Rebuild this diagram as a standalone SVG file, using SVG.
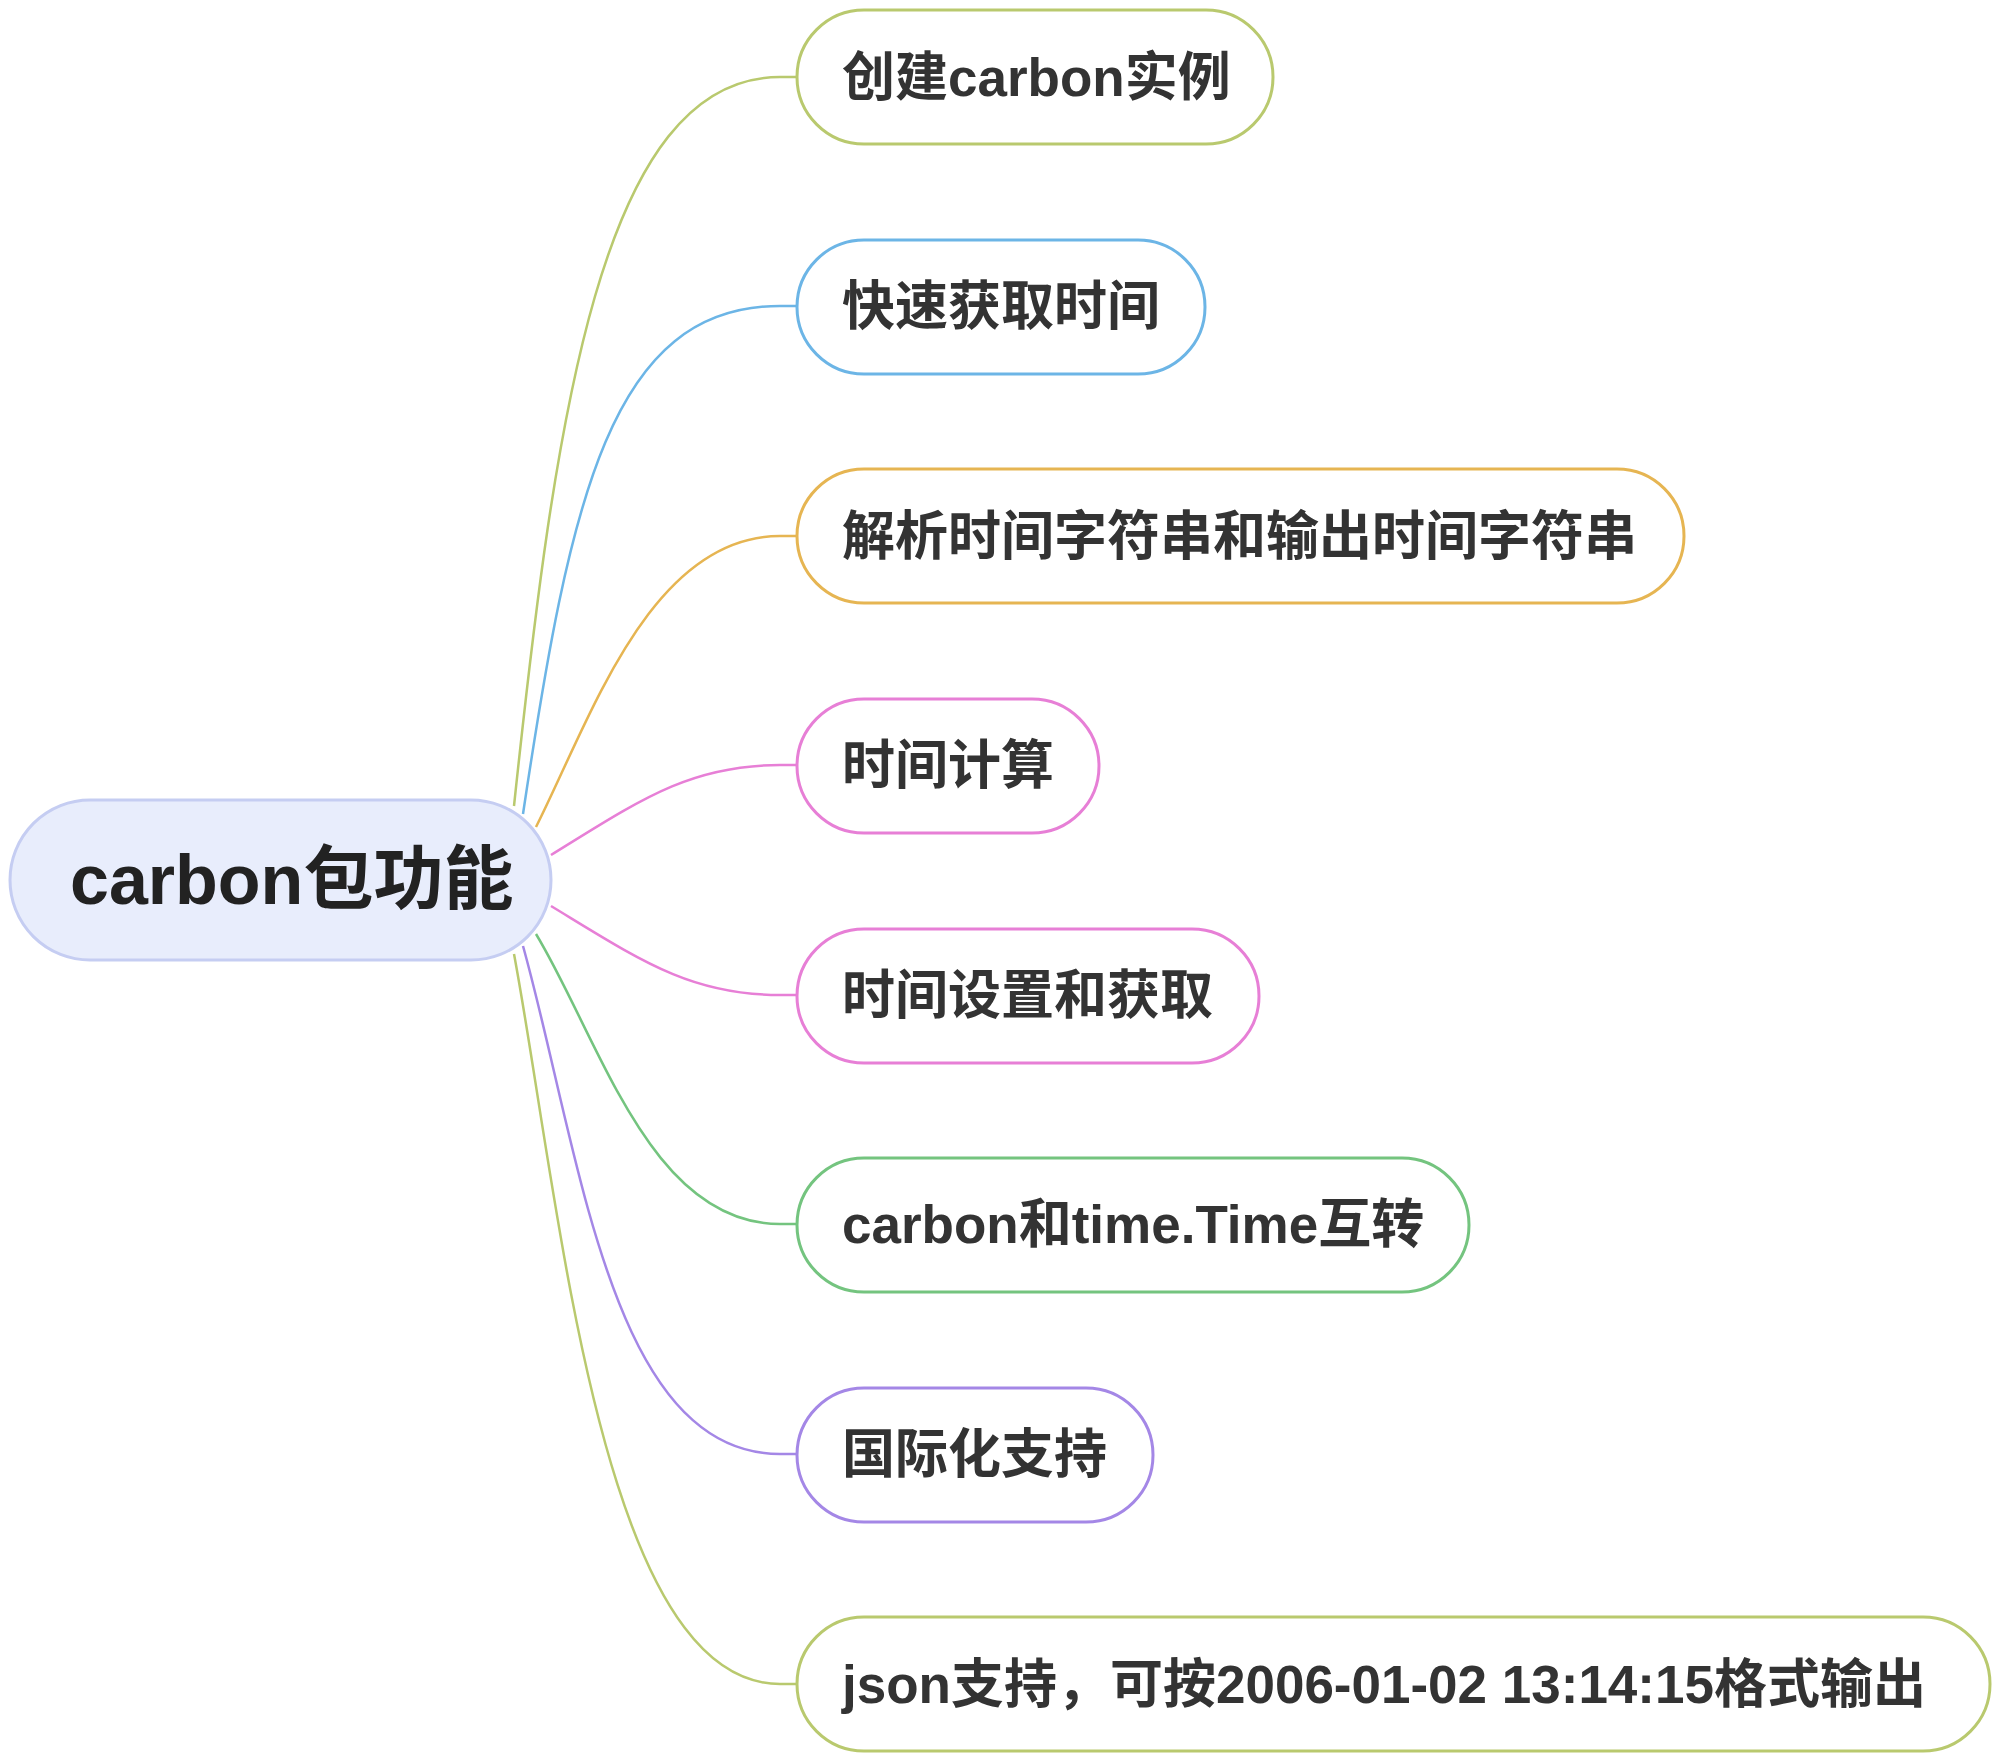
<svg xmlns="http://www.w3.org/2000/svg" width="2000" height="1761" viewBox="0 0 2000 1761">
<style>
.n rect{fill:#fff;stroke-width:3}
.t{font-family:"Liberation Sans","Noto Sans CJK SC",sans-serif;font-size:53px;fill:#333;font-weight:bold;dominant-baseline:central}
#conn path{fill:none;stroke-width:2.5}
</style>
<rect width="2000" height="1761" fill="#fff"/>
<g id="conn">
<path d="M514,806 C555,420 600,77 780,77 L797,77" stroke="#b9c96e"/>
<path d="M523,814 C570,500 610,306 780,306 L797,306" stroke="#6cb5e6"/>
<path d="M536,827 C590,720 650,536 780,536 L797,536" stroke="#e6b552"/>
<path d="M551,855 C640,800 690,765 780,765 L797,765" stroke="#e77fd6"/>
<path d="M551,906 C640,960 690,995 780,995 L797,995" stroke="#e77fd6"/>
<path d="M536,934 C600,1040 650,1224 780,1224 L797,1224" stroke="#74c47f"/>
<path d="M523,946 C580,1150 610,1454 780,1454 L797,1454" stroke="#a487e6"/>
<path d="M514,954 C560,1200 600,1684 780,1684 L797,1684" stroke="#b9c96e"/>
</g>
<g id="root"><rect x="10" y="800" width="541" height="160" rx="80" fill="#e8edfc" stroke="#c5cdf2" stroke-width="3"/><text class="t" x="70" y="880" style="font-size:70px;font-weight:600;fill:#222">carbon包功能</text></g>
<g id="n1" class="n"><rect x="797" y="10" width="476" height="134" rx="67" stroke="#b9c96e"/><text class="t" x="842" y="77">创建carbon实例</text></g>
<g id="n2" class="n"><rect x="797" y="240" width="408" height="134" rx="67" stroke="#6cb5e6"/><text class="t" x="842" y="306">快速获取时间</text></g>
<g id="n3" class="n"><rect x="797" y="469" width="887" height="134" rx="67" stroke="#e6b552"/><text class="t" x="842" y="536">解析时间字符串和输出时间字符串</text></g>
<g id="n4" class="n"><rect x="797" y="699" width="302" height="134" rx="67" stroke="#e77fd6"/><text class="t" x="842" y="765">时间计算</text></g>
<g id="n5" class="n"><rect x="797" y="929" width="462" height="134" rx="67" stroke="#e77fd6"/><text class="t" x="842" y="995">时间设置和获取</text></g>
<g id="n6" class="n"><rect x="797" y="1158" width="672" height="134" rx="67" stroke="#74c47f"/><text class="t" x="842" y="1224">carbon和time.Time互转</text></g>
<g id="n7" class="n"><rect x="797" y="1388" width="356" height="134" rx="67" stroke="#a487e6"/><text class="t" x="842" y="1454">国际化支持</text></g>
<g id="n8" class="n"><rect x="797" y="1617" width="1193" height="134" rx="67" stroke="#b9c96e"/><text class="t" x="842" y="1684">json支持，可按2006-01-02 13:14:15格式输出</text></g>
</svg>
